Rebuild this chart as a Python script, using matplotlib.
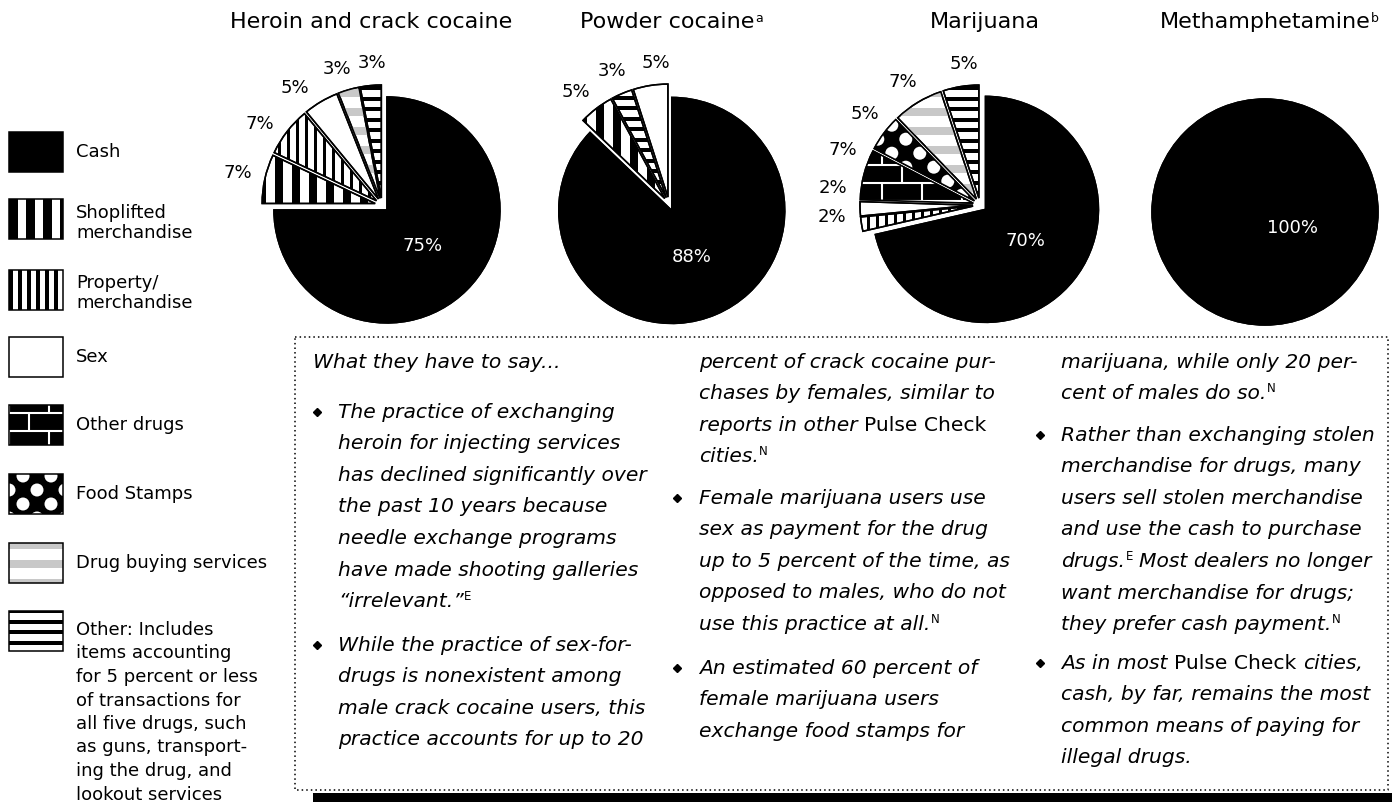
import numpy as np
import matplotlib
matplotlib.use('Agg')
import matplotlib.pyplot as plt
from matplotlib.patches import Rectangle, Wedge, Circle
from matplotlib.collections import PatchCollection, LineCollection

W, H = 1392, 802
plt.rcParams['font.family'] = ['DejaVu Sans']

# ---- data ----
categories = ['Cash', 'Shoplifted merchandise', 'Property/merchandise', 'Sex',
              'Other drugs', 'Food Stamps', 'Drug buying services', 'Other']
legend_labels = ['Cash', 'Shoplifted\nmerchandise', 'Property/\nmerchandise', 'Sex',
                 'Other drugs', 'Food Stamps', 'Drug buying services',
                 'Other: Includes\nitems accounting\nfor 5 percent or less\n'
                 'of transactions for\nall five drugs, such\nas guns, transport-\n'
                 'ing the drug, and\nlookout services']

drugs = ['Heroin and crack cocaine', 'Powder cocaine', 'Marijuana', 'Methamphetamine']
drug_notes = ['', 'a', '', 'b']

heroin_cats = ['Cash', 'Shoplifted merchandise', 'Property/merchandise', 'Sex',
               'Drug buying services', 'Other']
heroin_vals = [75, 7, 7, 5, 3, 3]
powder_cats = ['Cash', 'Shoplifted merchandise', 'Other', 'Sex']
powder_vals = [88, 5, 3, 5]
marijuana_cats = ['Cash', 'Property/merchandise', 'Sex', 'Other drugs', 'Food Stamps',
                  'Drug buying services', 'Other']
marijuana_vals = [70, 2, 2, 7, 5, 7, 5]
meth_cats = ['Cash']
meth_vals = [100]

notes = [
    (313, None, 362, [[('What they have to say...', 'i')]]),
    (338, 317, 412, [[('The practice of exchanging', 'i')],
                     [('heroin for injecting services', 'i')],
                     [('has declined significantly over', 'i')],
                     [('the past 10 years because', 'i')],
                     [('needle exchange programs', 'i')],
                     [('have made shooting galleries', 'i')],
                     [('\u201cirrelevant.\u201d', 'i'), ('E', 's')]]),
    (338, 317, 645, [[('While the practice of sex-for-', 'i')],
                     [('drugs is nonexistent among', 'i')],
                     [('male crack cocaine users, this', 'i')],
                     [('practice accounts for up to 20', 'i')]]),
    (699, None, 362, [[('percent of crack cocaine pur-', 'i')],
                      [('chases by females, similar to', 'i')],
                      [('reports in other ', 'i'), ('Pulse Check', 'r')],
                      [('cities.', 'i'), ('N', 's')]]),
    (699, 677, 498, [[('Female marijuana users use', 'i')],
                     [('sex as payment for the drug', 'i')],
                     [('up to 5 percent of the time, as', 'i')],
                     [('opposed to males, who do not', 'i')],
                     [('use this practice at all.', 'i'), ('N', 's')]]),
    (699, 677, 668, [[('An estimated 60 percent of', 'i')],
                     [('female marijuana users', 'i')],
                     [('exchange food stamps for', 'i')]]),
    (1061, None, 362, [[('marijuana, while only 20 per-', 'i')],
                       [('cent of males do so.', 'i'), ('N', 's')]]),
    (1061, 1040, 435, [[('Rather than exchanging stolen', 'i')],
                       [('merchandise for drugs, many', 'i')],
                       [('users sell stolen merchandise', 'i')],
                       [('and use the cash to purchase', 'i')],
                       [('drugs.', 'i'), ('E', 's'), (' Most dealers no longer', 'i')],
                       [('want merchandise for drugs;', 'i')],
                       [('they prefer cash payment.', 'i'), ('N', 's')]]),
    (1061, 1040, 663, [[('As in most ', 'i'), ('Pulse Check', 'r'), (' cities,', 'i')],
                       [('cash, by far, remains the most', 'i')],
                       [('common means of paying for', 'i')],
                       [('illegal drugs.', 'i')]]),
]

# ---- look ----
styles = {
    'Cash': ('black', None),
    'Shoplifted merchandise': ('white', 'vbold'),
    'Property/merchandise': ('white', 'vthin'),
    'Sex': ('white', None),
    'Other drugs': ('black', 'brick'),
    'Food Stamps': ('black', 'dots'),
    'Drug buying services': ('white', 'gray'),
    'Other': ('white', 'hstripe'),
}
R = 113
pie_centres = [(382, 205), (669, 204), (980, 205), (1265, 212)]
title_x = [371, 667, 985, 1265]
# small angular nudges of the outside labels (degrees), per pie and slice
label_shift = [[0, 0, 4.5, 6.5, 2, -1.5],
               [0, 2.6, 0, -3.6],
               [0, -4.7, -8.9, -7.4, -1.9, 0.9, -2.7],
               [0]]
cash_explode, slice_explode = 7, 7
body_size = 14.6

fig = plt.figure(figsize=(W / 100, H / 100), dpi=100)
ax = fig.add_axes([0, 0, 1, 1])
ax.set_xlim(0, W)
ax.set_ylim(0, H)
ax.axis('off')
renderer = fig.canvas.get_renderer()


def pattern(kind, clip, x0, y0, x1, y1):
    if kind is None:
        return
    if kind in ('vbold', 'vthin'):
        step, bw = (17, 8.5) if kind == 'vbold' else (9, 3.5)
        parts = [Rectangle((x, y0), bw, y1 - y0) for x in np.arange(x0, x1, step)]
        coll = PatchCollection(parts, facecolor='black', edgecolor='none')
    elif kind in ('hstripe', 'gray'):
        step, bw, col = (10.5, 4, 'black') if kind == 'hstripe' else (19, 8, '#c8c8c8')
        parts = [Rectangle((x0, y), x1 - x0, bw) for y in np.arange(y0, y1, step)]
        coll = PatchCollection(parts, facecolor=col, edgecolor='none')
    elif kind == 'dots':
        parts = []
        for j, y in enumerate(np.arange(y0, y1 + 14, 14)):
            for x in np.arange(x0 + (j % 2) * 14, x1 + 14, 28):
                parts.append(Circle((x, y), 6.5))
        coll = PatchCollection(parts, facecolor='white', edgecolor='none')
    else:  # brick
        segs = []
        for j, y in enumerate(np.arange(y0, y1, 18)):
            segs.append([(x0, y), (x1, y)])
            for x in np.arange(x0 + (j % 2) * 20, x1, 40):
                segs.append([(x, y), (x, y + 18)])
        coll = LineCollection(segs, colors='white', linewidths=1.5)
    coll.set_zorder(2)
    ax.add_collection(coll)
    coll.set_clip_path(clip)


# ---- pies ----
pies = [(heroin_cats, heroin_vals), (powder_cats, powder_vals),
        (marijuana_cats, marijuana_vals), (meth_cats, meth_vals)]
for k, (cats, vals) in enumerate(pies):
    cx, cy = pie_centres[k][0], H - pie_centres[k][1]
    faces = [styles[c][0] for c in cats]
    expl = None
    if len(cats) > 1:
        expl = [cash_explode if c == 'Cash' else slice_explode for c in cats]
    wedges, _ = ax.pie(vals, explode=expl, colors=faces, startangle=90,
                       counterclock=False, center=(cx, cy), radius=R, frame=True,
                       wedgeprops=dict(edgecolor='black', linewidth=1.1))
    for i, (w, c, v) in enumerate(zip(wedges, cats, vals)):
        pattern(styles[c][1], w, cx - 1.4 * R, cy - 1.4 * R, cx + 1.4 * R, cy + 1.4 * R)
        ax.add_patch(Wedge(w.center, w.r, w.theta1, w.theta2, fill=False,
                           edgecolor='black', linewidth=1.1, zorder=3))
        if c == 'Cash':
            if len(cats) == 1:
                ang, dist = np.radians(-31), 0.28 * R
            else:
                ang, dist = np.radians((w.theta1 + w.theta2) / 2), 0.45 * R
            ax.text(w.center[0] + dist * np.cos(ang), w.center[1] + dist * np.sin(ang),
                    '%d%%' % v, color='white', fontsize=13, ha='center', va='center',
                    zorder=4)
        else:
            ang = np.radians((w.theta1 + w.theta2) / 2 + label_shift[k][i])
            dist = R * (1.19 + 0.06 * abs(np.cos(ang)))
            ax.text(w.center[0] + dist * np.cos(ang), w.center[1] + dist * np.sin(ang),
                    '%d%%' % v, color='black', fontsize=13, ha='center', va='center',
                    zorder=4)
    t = ax.text(title_x[k], H - 22, drugs[k], fontsize=16, ha='center', va='center')
    if drug_notes[k]:
        bb = t.get_window_extent(renderer)
        ax.text(bb.x1 + 1, H - 22 + 3, drug_notes[k], fontsize=9, ha='left', va='center')

ax.set_xlim(0, W)
ax.set_ylim(0, H)

# ---- legend ----
legend_tops = [132, 199, 270, 337, 405, 474, 543, 611]
for cat, lab, top in zip(categories, legend_labels, legend_tops):
    rect = Rectangle((9, H - top - 40), 54, 40, facecolor=styles[cat][0],
                     edgecolor='none')
    ax.add_patch(rect)
    pattern(styles[cat][1], rect, 9, H - top - 44, 63, H - top)
    ax.add_patch(Rectangle((9, H - top - 40), 54, 40, fill=False, edgecolor='black',
                           linewidth=1.1, zorder=3))
    lines = lab.split('\n')
    if len(lines) == 1:
        ys = [top + 20]
    elif len(lines) == 2:
        ys = [top + 13.5, top + 33.5]
    else:
        ys = [top + 19 + 23.5 * j for j in range(len(lines))]
    for line, y in zip(lines, ys):
        ax.text(76, H - y, line, fontsize=13, ha='left', va='center')


# ---- notes box ----
def space_w(size, style):
    a = ax.text(0, 0, 'x x', fontsize=size, style=style)
    b = ax.text(0, 0, 'xx', fontsize=size, style=style)
    d = a.get_window_extent(renderer).width - b.get_window_extent(renderer).width
    a.remove()
    b.remove()
    return d


def put_runs(x, yc, runs, size=body_size):
    base = H - yc - 0.378 * size
    for txt, kind in runs:
        style = 'italic' if kind == 'i' else 'normal'
        lead = len(txt) - len(txt.lstrip(' '))
        trail = len(txt) - len(txt.rstrip(' '))
        core = txt.strip(' ')
        x += lead * space_w(size, style)
        if kind == 's':
            t = ax.text(x + 0.5, base + 7, core, fontsize=size * 0.58, ha='left',
                        va='baseline')
        else:
            t = ax.text(x, base, core, fontsize=size, style=style, ha='left',
                        va='baseline')
        x += t.get_window_extent(renderer).width
        x += trail * space_w(size, style)
    return x


step = 31.6
for xt, xb, y0, lines in notes:
    if xb is not None:
        ax.plot(xb, H - y0, marker='D', ms=4, color='black')
    for j, runs in enumerate(lines):
        put_runs(xt, y0 + j * step, runs)

ax.plot([295, 1388, 1388, 295, 295], [H - 337, H - 337, H - 790, H - 790, H - 337],
        color='black', linewidth=1.1, linestyle=(0, (1, 2)), solid_capstyle='butt')
ax.add_patch(Rectangle((313, 0), W - 313, H - 793, facecolor='black', edgecolor='none'))

fig.savefig('out.png', dpi=100)
